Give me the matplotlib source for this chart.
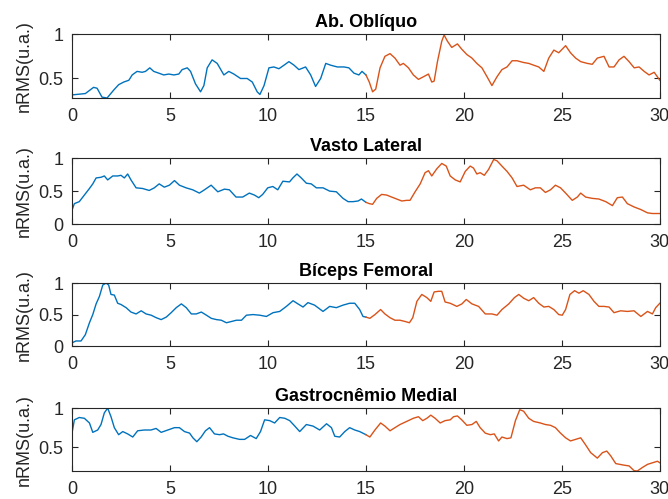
import matplotlib
matplotlib.use("Agg")
import matplotlib.pyplot as plt
from matplotlib.ticker import MultipleLocator

plt.rcParams["font.family"] = ["Liberation Sans", "DejaVu Sans"]

titles = ["Ab. Oblíquo", "Vasto Lateral", "Bíceps Femoral", "Gastrocnêmio Medial"]
ylabel = "nRMS(u.a.)"

# --- Ab. Oblíquo ---
obl_t1 = [0, 0.68, 1.1, 1.28, 1.53, 1.79, 2.13, 2.38, 2.64, 2.9, 3.07, 3.32, 3.58, 3.75, 3.97,
          4.17, 4.43, 4.68, 4.94, 5.2, 5.45, 5.62, 5.88, 6.05, 6.3, 6.56, 6.73, 6.9, 7.15, 7.41,
          7.75, 8.0, 8.26, 8.6, 8.94, 9.2, 9.45, 9.59, 9.8, 10.05, 10.3, 10.56, 10.82, 11.07,
          11.33, 11.58, 11.92, 12.18, 12.43, 12.69, 12.95, 13.2, 13.54, 13.88, 14.13, 14.39,
          14.64, 14.8, 15.0]
obl_v1 = [0.315, 0.33, 0.40, 0.39, 0.29, 0.28, 0.37, 0.43, 0.46, 0.48, 0.54, 0.58, 0.57, 0.58,
          0.62, 0.58, 0.56, 0.54, 0.55, 0.54, 0.55, 0.60, 0.62, 0.58, 0.44, 0.35, 0.42, 0.62,
          0.71, 0.67, 0.54, 0.58, 0.55, 0.50, 0.50, 0.46, 0.35, 0.32, 0.42, 0.62, 0.63, 0.61,
          0.65, 0.69, 0.65, 0.60, 0.63, 0.54, 0.41, 0.50, 0.67, 0.65, 0.63, 0.63, 0.62, 0.56,
          0.54, 0.58, 0.54]
obl_t2 = [15.0, 15.17, 15.34, 15.5, 15.72, 15.97, 16.23, 16.48, 16.74, 16.91, 17.17, 17.42,
          17.68, 17.94, 18.19, 18.36, 18.48, 18.65, 18.87, 18.99, 19.16, 19.38, 19.67, 19.89,
          20.15, 20.41, 20.66, 20.92, 21.18, 21.43, 21.69, 21.94, 22.2, 22.46, 22.71, 23.05,
          23.31, 23.56, 23.82, 24.08, 24.33, 24.59, 24.84, 25.19, 25.44, 25.7, 25.96, 26.3,
          26.55, 26.81, 27.15, 27.41, 27.66, 27.92, 28.17, 28.43, 28.69, 28.94, 29.2, 29.45,
          29.71, 30.0]
obl_v2 = [0.54, 0.46, 0.35, 0.38, 0.62, 0.75, 0.78, 0.73, 0.65, 0.67, 0.62, 0.54, 0.49, 0.52,
          0.55, 0.46, 0.47, 0.69, 0.92, 0.99, 0.92, 0.85, 0.89, 0.83, 0.77, 0.73, 0.67, 0.62,
          0.52, 0.42, 0.52, 0.60, 0.63, 0.70, 0.70, 0.68, 0.67, 0.65, 0.63, 0.58, 0.73, 0.82,
          0.79, 0.87, 0.79, 0.73, 0.69, 0.67, 0.66, 0.73, 0.75, 0.63, 0.63, 0.71, 0.75, 0.69,
          0.62, 0.63, 0.58, 0.54, 0.57, 0.48]

# --- Vasto Lateral ---
vl_t1 = [0, 0.12, 0.37, 0.63, 0.89, 1.06, 1.23, 1.48, 1.65, 1.82, 2.08, 2.33, 2.5, 2.67, 2.84,
         3.01, 3.27, 3.6, 3.94, 4.2, 4.45, 4.71, 4.97, 5.23, 5.48, 5.82, 6.16, 6.5, 6.76, 7.1,
         7.44, 7.78, 8.03, 8.37, 8.71, 9.05, 9.31, 9.53, 9.73, 9.99, 10.25, 10.5, 10.76, 11.1,
         11.27, 11.48, 11.7, 11.96, 12.21, 12.47, 12.81, 13.15, 13.49, 13.83, 14.09, 14.34,
         14.6, 14.77, 15.0]
vl_v1 = [0.21, 0.31, 0.34, 0.44, 0.54, 0.61, 0.70, 0.71, 0.73, 0.67, 0.73, 0.73, 0.74, 0.70,
         0.76, 0.67, 0.55, 0.54, 0.51, 0.55, 0.61, 0.56, 0.59, 0.66, 0.59, 0.55, 0.52, 0.47,
         0.52, 0.59, 0.49, 0.53, 0.52, 0.41, 0.41, 0.47, 0.44, 0.40, 0.45, 0.55, 0.57, 0.52,
         0.65, 0.64, 0.70, 0.76, 0.70, 0.62, 0.61, 0.55, 0.55, 0.50, 0.49, 0.39, 0.34, 0.34,
         0.35, 0.38, 0.33]
vl_t2 = [15.0, 15.17, 15.34, 15.55, 15.8, 16.06, 16.31, 16.57, 16.83, 17.08, 17.25, 17.51,
         17.77, 18.02, 18.19, 18.36, 18.62, 18.87, 19.1, 19.3, 19.56, 19.81, 20.07, 20.32,
         20.49, 20.66, 20.83, 21.04, 21.26, 21.52, 21.69, 21.94, 22.2, 22.46, 22.71, 23.05,
         23.39, 23.65, 23.9, 24.16, 24.42, 24.67, 24.93, 25.19, 25.53, 25.79, 25.96, 26.21,
         26.55, 26.89, 27.24, 27.58, 27.83, 28.09, 28.34, 28.68, 29.03, 29.37, 29.62, 30.0]
vl_v2 = [0.33, 0.31, 0.30, 0.39, 0.45, 0.44, 0.41, 0.38, 0.35, 0.36, 0.36, 0.49, 0.61, 0.78,
         0.81, 0.73, 0.84, 0.92, 0.88, 0.73, 0.67, 0.64, 0.80, 0.88, 0.85, 0.76, 0.78, 0.74,
         0.83, 0.98, 0.96, 0.88, 0.80, 0.70, 0.57, 0.59, 0.52, 0.55, 0.55, 0.48, 0.52, 0.59,
         0.55, 0.47, 0.36, 0.41, 0.47, 0.41, 0.39, 0.38, 0.34, 0.28, 0.40, 0.41, 0.31, 0.26,
         0.22, 0.17, 0.16, 0.16]

# --- Bíceps Femoral ---
bf_t1 = [0, 0.2, 0.46, 0.68, 0.89, 1.06, 1.23, 1.4, 1.57, 1.74, 1.87, 1.99, 2.16, 2.33, 2.5,
         2.76, 3.01, 3.27, 3.53, 3.78, 4.04, 4.3, 4.55, 4.81, 5.06, 5.32, 5.58, 5.83, 6.09,
         6.34, 6.6, 6.86, 7.11, 7.37, 7.62, 7.88, 8.14, 8.39, 8.65, 8.9, 9.24, 9.58, 9.92,
         10.26, 10.6, 10.94, 11.28, 11.53, 11.79, 12.04, 12.38, 12.81, 13.15, 13.49, 13.83,
         14.17, 14.43, 14.68, 14.85, 15.0]
bf_v1 = [0.05, 0.08, 0.08, 0.18, 0.37, 0.50, 0.67, 0.79, 0.97, 1.0, 0.97, 0.82, 0.81, 0.68,
         0.66, 0.61, 0.54, 0.51, 0.56, 0.51, 0.49, 0.45, 0.42, 0.46, 0.53, 0.61, 0.67, 0.61,
         0.51, 0.51, 0.54, 0.49, 0.44, 0.42, 0.41, 0.37, 0.39, 0.41, 0.41, 0.49, 0.50, 0.49,
         0.47, 0.53, 0.55, 0.63, 0.72, 0.67, 0.62, 0.69, 0.65, 0.55, 0.63, 0.61, 0.65, 0.68,
         0.68, 0.58, 0.47, 0.46]
bf_t2 = [15.0, 15.2, 15.46, 15.75, 15.97, 16.23, 16.48, 16.74, 17.0, 17.22, 17.39, 17.6,
         17.85, 18.11, 18.31, 18.48, 18.7, 18.87, 19.04, 19.3, 19.64, 19.9, 20.12, 20.41,
         20.75, 21.09, 21.43, 21.69, 21.94, 22.29, 22.58, 22.8, 23.05, 23.31, 23.56, 23.82,
         24.08, 24.33, 24.59, 24.84, 25.02, 25.19, 25.41, 25.65, 25.87, 26.09, 26.38, 26.64,
         26.89, 27.15, 27.41, 27.66, 28.0, 28.34, 28.68, 29.03, 29.37, 29.62, 29.79, 30.0]
bf_v2 = [0.46, 0.44, 0.50, 0.58, 0.51, 0.45, 0.41, 0.41, 0.39, 0.37, 0.45, 0.71, 0.82, 0.77,
         0.71, 0.86, 0.87, 0.87, 0.70, 0.68, 0.63, 0.67, 0.74, 0.67, 0.63, 0.51, 0.51, 0.49,
         0.58, 0.67, 0.77, 0.82, 0.76, 0.72, 0.77, 0.68, 0.62, 0.63, 0.58, 0.50, 0.49, 0.58,
         0.82, 0.88, 0.84, 0.88, 0.82, 0.71, 0.63, 0.63, 0.62, 0.53, 0.56, 0.55, 0.56, 0.47,
         0.55, 0.51, 0.61, 0.68]

# --- Gastrocnêmio Medial ---
gm_t1 = [0, 0.12, 0.37, 0.63, 0.89, 1.06, 1.31, 1.48, 1.65, 1.82, 1.99, 2.16, 2.38, 2.59,
         2.84, 3.1, 3.35, 3.69, 4.03, 4.29, 4.55, 4.89, 5.23, 5.48, 5.74, 6.0, 6.17, 6.37,
         6.59, 6.81, 7.02, 7.27, 7.53, 7.73, 7.96, 8.21, 8.55, 8.81, 9.11, 9.4, 9.62, 9.83,
         10.09, 10.34, 10.6, 10.86, 11.11, 11.37, 11.62, 11.96, 12.3, 12.64, 12.99, 13.24,
         13.41, 13.66, 13.92, 14.17, 14.43, 14.68, 15.0]
gm_v1 = [0.68, 0.85, 0.88, 0.87, 0.81, 0.69, 0.72, 0.79, 0.94, 1.0, 0.89, 0.75, 0.66, 0.70,
         0.67, 0.63, 0.71, 0.72, 0.72, 0.74, 0.69, 0.72, 0.75, 0.75, 0.70, 0.68, 0.62, 0.57,
         0.63, 0.71, 0.75, 0.67, 0.66, 0.67, 0.64, 0.62, 0.60, 0.60, 0.65, 0.61, 0.70, 0.85,
         0.84, 0.81, 0.88, 0.87, 0.84, 0.77, 0.70, 0.79, 0.77, 0.72, 0.80, 0.75, 0.64, 0.63,
         0.70, 0.75, 0.72, 0.70, 0.66]
gm_t2 = [15.0, 15.2, 15.46, 15.75, 15.97, 16.23, 16.48, 16.74, 17.08, 17.42, 17.68, 17.9,
         18.11, 18.31, 18.53, 18.79, 19.04, 19.3, 19.47, 19.67, 19.89, 20.15, 20.41, 20.63,
         20.83, 21.09, 21.35, 21.55, 21.77, 21.94, 22.2, 22.4, 22.63, 22.85, 23.05, 23.31,
         23.56, 23.9, 24.16, 24.42, 24.67, 24.93, 25.19, 25.44, 25.7, 25.96, 26.21, 26.47,
         26.81, 27.07, 27.29, 27.49, 27.75, 28.17, 28.43, 28.68, 28.85, 29.11, 29.37, 29.62,
         29.88, 30.0]
gm_v2 = [0.66, 0.63, 0.72, 0.81, 0.77, 0.71, 0.75, 0.79, 0.83, 0.87, 0.89, 0.84, 0.87, 0.91,
         0.87, 0.81, 0.84, 0.85, 0.89, 0.90, 0.85, 0.78, 0.79, 0.83, 0.75, 0.68, 0.66, 0.67,
         0.58, 0.63, 0.61, 0.62, 0.84, 0.98, 0.96, 0.87, 0.83, 0.81, 0.79, 0.78, 0.75, 0.68,
         0.62, 0.58, 0.60, 0.62, 0.53, 0.43, 0.36, 0.43, 0.45, 0.39, 0.29, 0.27, 0.26, 0.20,
         0.195, 0.24, 0.28, 0.30, 0.32, 0.30]

series = [
    (obl_t1, obl_v1, obl_t2, obl_v2),
    (vl_t1, vl_v1, vl_t2, vl_v2),
    (bf_t1, bf_v1, bf_t2, bf_v2),
    (gm_t1, gm_v1, gm_t2, gm_v2),
]
ylims = [(0.28, 1.0), (0.0, 1.0), (0.0, 1.0), (0.195, 1.0)]

# axes boxes in figure fractions: left, bottom, width, height
boxes = [
    (0.1078, 0.8036, 0.880, 0.128),
    (0.1078, 0.5510, 0.880, 0.132),
    (0.1078, 0.3066, 0.880, 0.126),
    (0.1078, 0.0561, 0.880, 0.126),
]

blue = "#0072BD"
orange = "#D95319"
axcol = "#262626"
fs = 13

fig = plt.figure(figsize=(6.68, 4.99), dpi=100)
for (t1, v1, t2, v2), title, yl, box in zip(series, titles, ylims, boxes):
    ax = fig.add_axes(box)
    ax.plot(t1, v1, color=blue, lw=1.0)
    ax.plot(t2, v2, color=orange, lw=1.0)
    ax.set_xlim(0, 30)
    ax.set_ylim(*yl)
    ax.xaxis.set_major_locator(MultipleLocator(5))
    ax.tick_params(direction="in", top=True, right=True, length=4, width=0.8,
                   colors=axcol, labelsize=fs)
    ax.tick_params(axis="x", pad=7)
    ax.tick_params(axis="y", pad=6)
    for s in ax.spines.values():
        s.set_color(axcol)
        s.set_linewidth(0.8)
    ax.set_title(title, fontsize=fs, fontweight="bold", color="black", pad=5)
    ax.set_ylabel(ylabel, fontsize=fs, color=axcol, labelpad=4)
    yt = [tk for tk in (0, 0.5, 1) if yl[0] - 1e-9 <= tk <= yl[1] + 1e-9]
    ax.set_yticks(yt)
    ax.set_yticklabels(["%g" % tk for tk in yt])

fig.savefig("out.png", dpi=100)
